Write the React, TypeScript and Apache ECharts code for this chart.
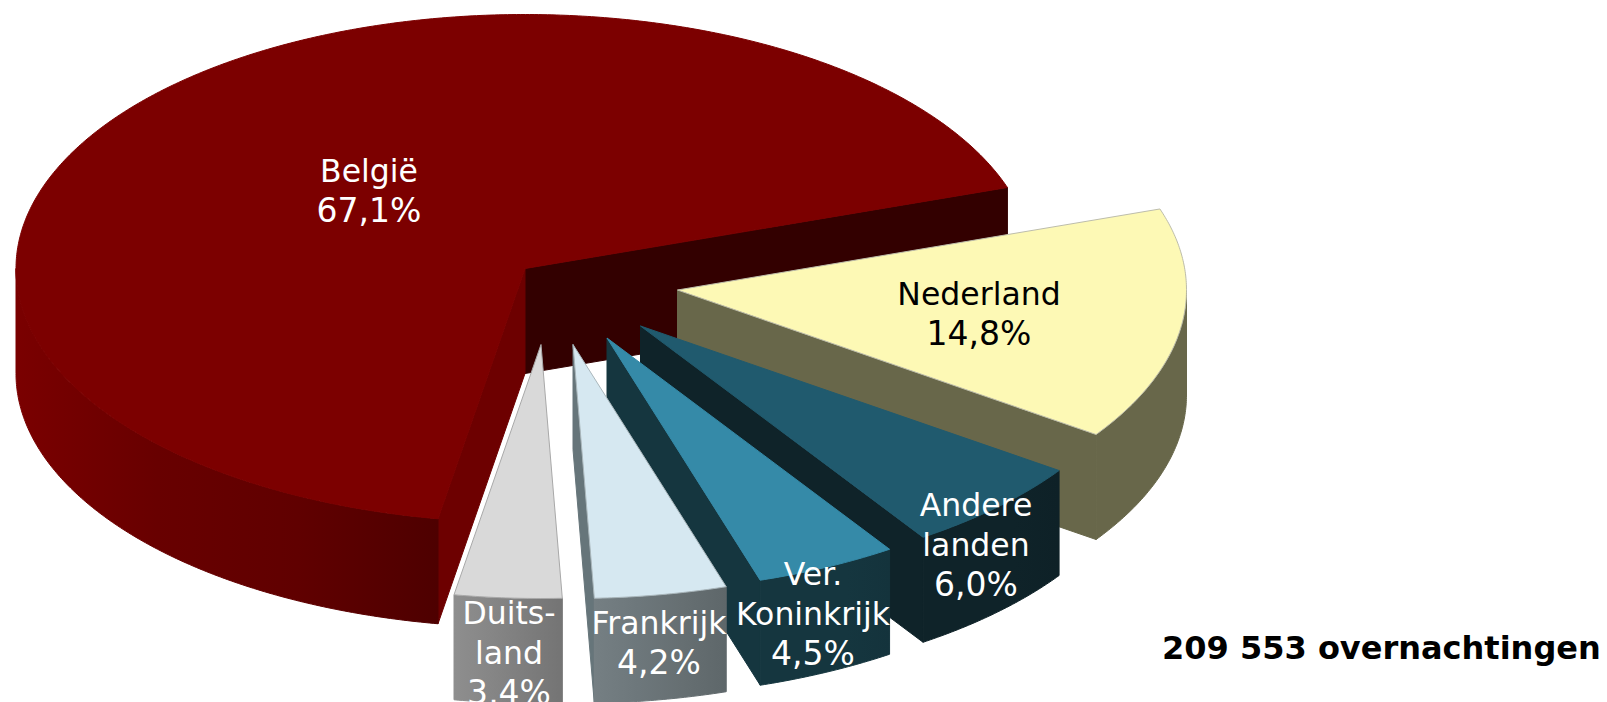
import React, { useEffect, useRef } from "react";
import * as echarts from "echarts";

// Data
const categories = ["België", "Nederland", "Andere landen", "Ver. Koninkrijk", "Frankrijk", "Duitsland"];
const shares = [67.1, 14.8, 6.0, 4.5, 4.2, 3.4];
const labelNames = ["België", "Nederland", "Andere\nlanden", "Ver.\nKoninkrijk", "Frankrijk", "Duits-\nland"];
const totalLabel = "209 553 overnachtingen";

// Layout (exploded slice apexes, label centres)
const apexX = [525, 677.5, 640.5, 607, 573, 541];
const apexY = [268.5, 290, 326, 338, 344.5, 344.5];
const labelX = [369, 979, 976, 813, 659, 509];
const labelTopY = [171, 294, 505, 574, 623, 613]; // centre of each label's first line
const LINE_HEIGHT = 39.5;
const RX = 509;
const RY = 254;
const DEPTH = 105;
const START_ANGLE = 260.16; // degrees, slices run clockwise from here

// Styles
const topColors = ["#7c0000", "#fdf9b5", "#205a6e", "#358aa8", "#d6e8f1", "#d9d9d9"];
const topStrokes = ["#7c0000", "#bdbdab", "#205a6e", "#358aa8", "#a9b6bb", "#a8a8a8"];
const cutColors = ["#330000", "#68674a", "#0f2329", "#15363f", "#66757a", "#777777"];
const endCutColor = "#6d0000";
const wallStops: string[][] = [
  ["#7a0000", "#680000", "#600000", "#4e0000"],
  ["#68674a", "#68674a", "#68674a", "#68674a"],
  ["#0f2329", "#0f2329", "#0f2329", "#0e2127"],
  ["#15363f", "#15363f", "#15363f", "#14333c"],
  ["#757f83", "#6d777b", "#666f72", "#5e676a"],
  ["#8e8e8e", "#868686", "#7d7d7d", "#747474"],
];
const labelColors = ["#ffffff", "#000000", "#ffffff", "#ffffff", "#ffffff", "#ffffff"];

const FONT = "Verdana, 'DejaVu Sans', sans-serif";

const rad = (d: number) => (d * Math.PI) / 180;

function arc(cx: number, cy: number, from: number, to: number): number[][] {
  const n = Math.max(2, Math.ceil(Math.abs(to - from) * 2));
  const pts: number[][] = [];
  for (let i = 0; i <= n; i++) {
    const t = rad(from + ((to - from) * i) / n);
    pts.push([cx + RX * Math.cos(t), cy - RY * Math.sin(t)]);
  }
  return pts;
}

function sliceAngles(index: number): [number, number] {
  let acc = 0;
  for (let i = 0; i < index; i++) acc += shares[i];
  const hi = START_ANGLE - (acc / 100) * 360;
  const lo = hi - (shares[index] / 100) * 360;
  return [hi, lo];
}

function cutFace(cx: number, cy: number, angle: number, fill: string) {
  const t = rad(angle);
  const p = [cx + RX * Math.cos(t), cy - RY * Math.sin(t)];
  return {
    type: "polygon",
    shape: { points: [[cx, cy], p, [p[0], p[1] + DEPTH], [cx, cy + DEPTH]] },
    style: { fill, stroke: fill, lineWidth: 1 },
  };
}

function renderSlice(params: any, api: any) {
  const i = params.dataIndex;
  const cx = apexX[i];
  const cy = apexY[i];
  const [hi, lo] = sliceAngles(i);
  const children: any[] = [];

  if (i === 0) {
    // België: both cut faces look towards the viewer
    children.push(cutFace(cx, cy, lo, cutColors[0]));
    children.push(cutFace(cx, cy, hi, endCutColor));
  } else if (i < shares.length - 1) {
    // Duitsland's cut face is hidden behind its own top
    children.push(cutFace(cx, cy, lo, cutColors[i]));
  }

  // outer wall: only the front half of the ellipse
  const wallFrom = hi > 180 ? 180 : lo;
  const wallTo = hi > 180 ? hi : Math.min(hi, 0);
  const outer = arc(cx, cy, wallFrom, wallTo);
  const lower = outer.map((p) => [p[0], p[1] + DEPTH]).reverse();
  const stops = wallStops[i];
  const gradient = () =>
    new echarts.graphic.LinearGradient(0, 0, 1, 0, stops.map((color, k) => ({ offset: k / (stops.length - 1), color })));
  children.push({
    type: "polygon",
    shape: { points: outer.concat(lower) },
    style: { fill: gradient(), stroke: gradient(), lineWidth: 1 },
  });

  // top face
  children.push({
    type: "polygon",
    shape: { points: [[cx, cy] as number[]].concat(arc(cx, cy, hi, lo)) },
    style: { fill: topColors[i], stroke: topStrokes[i], lineWidth: 1 },
  });

  return { type: "group", children };
}

function renderLabel(params: any, api: any) {
  const i = params.dataIndex;
  const pct = Number(api.value(0)).toFixed(1).replace(".", ",");
  const name = labelNames[i];
  const lines = name.split("\n").length;
  return {
    type: "group",
    children: [
      {
        type: "text",
        x: labelX[i],
        y: labelTopY[i] - LINE_HEIGHT / 2,
        style: {
          text: name,
          fill: labelColors[i],
          font: "31.5px " + FONT,
          lineHeight: LINE_HEIGHT,
          align: "center",
          verticalAlign: "top",
        },
      },
      {
        type: "text",
        x: labelX[i],
        y: labelTopY[i] + lines * LINE_HEIGHT,
        style: {
          text: pct + "%",
          fill: labelColors[i],
          font: "33px " + FONT,
          align: "center",
          verticalAlign: "middle",
        },
      },
    ],
  };
}

export default function App() {
  const ref = useRef<HTMLDivElement>(null);
  useEffect(() => {
    document.body.style.margin = "0";
    const chart = echarts.init(ref.current!, null, { renderer: "svg" });
    const data = shares.map((v, i) => ({ name: categories[i], value: [v] }));
    chart.setOption({
      animation: false,
      backgroundColor: "#ffffff",
      series: [
        { type: "custom", coordinateSystem: "none", renderItem: renderSlice, data, silent: true, z: 2 },
        { type: "custom", coordinateSystem: "none", renderItem: renderLabel, data, silent: true, z: 3 },
      ],
      graphic: [
        {
          type: "text",
          z: 10,
          x: 1162,
          y: 648,
          style: { text: totalLabel, fill: "#000000", font: "bold 32px " + FONT, align: "left", verticalAlign: "middle" },
        },
      ],
    });
    return () => chart.dispose();
  }, []);
  return <div ref={ref} style={{ width: 1607, height: 702 }} />;
}
